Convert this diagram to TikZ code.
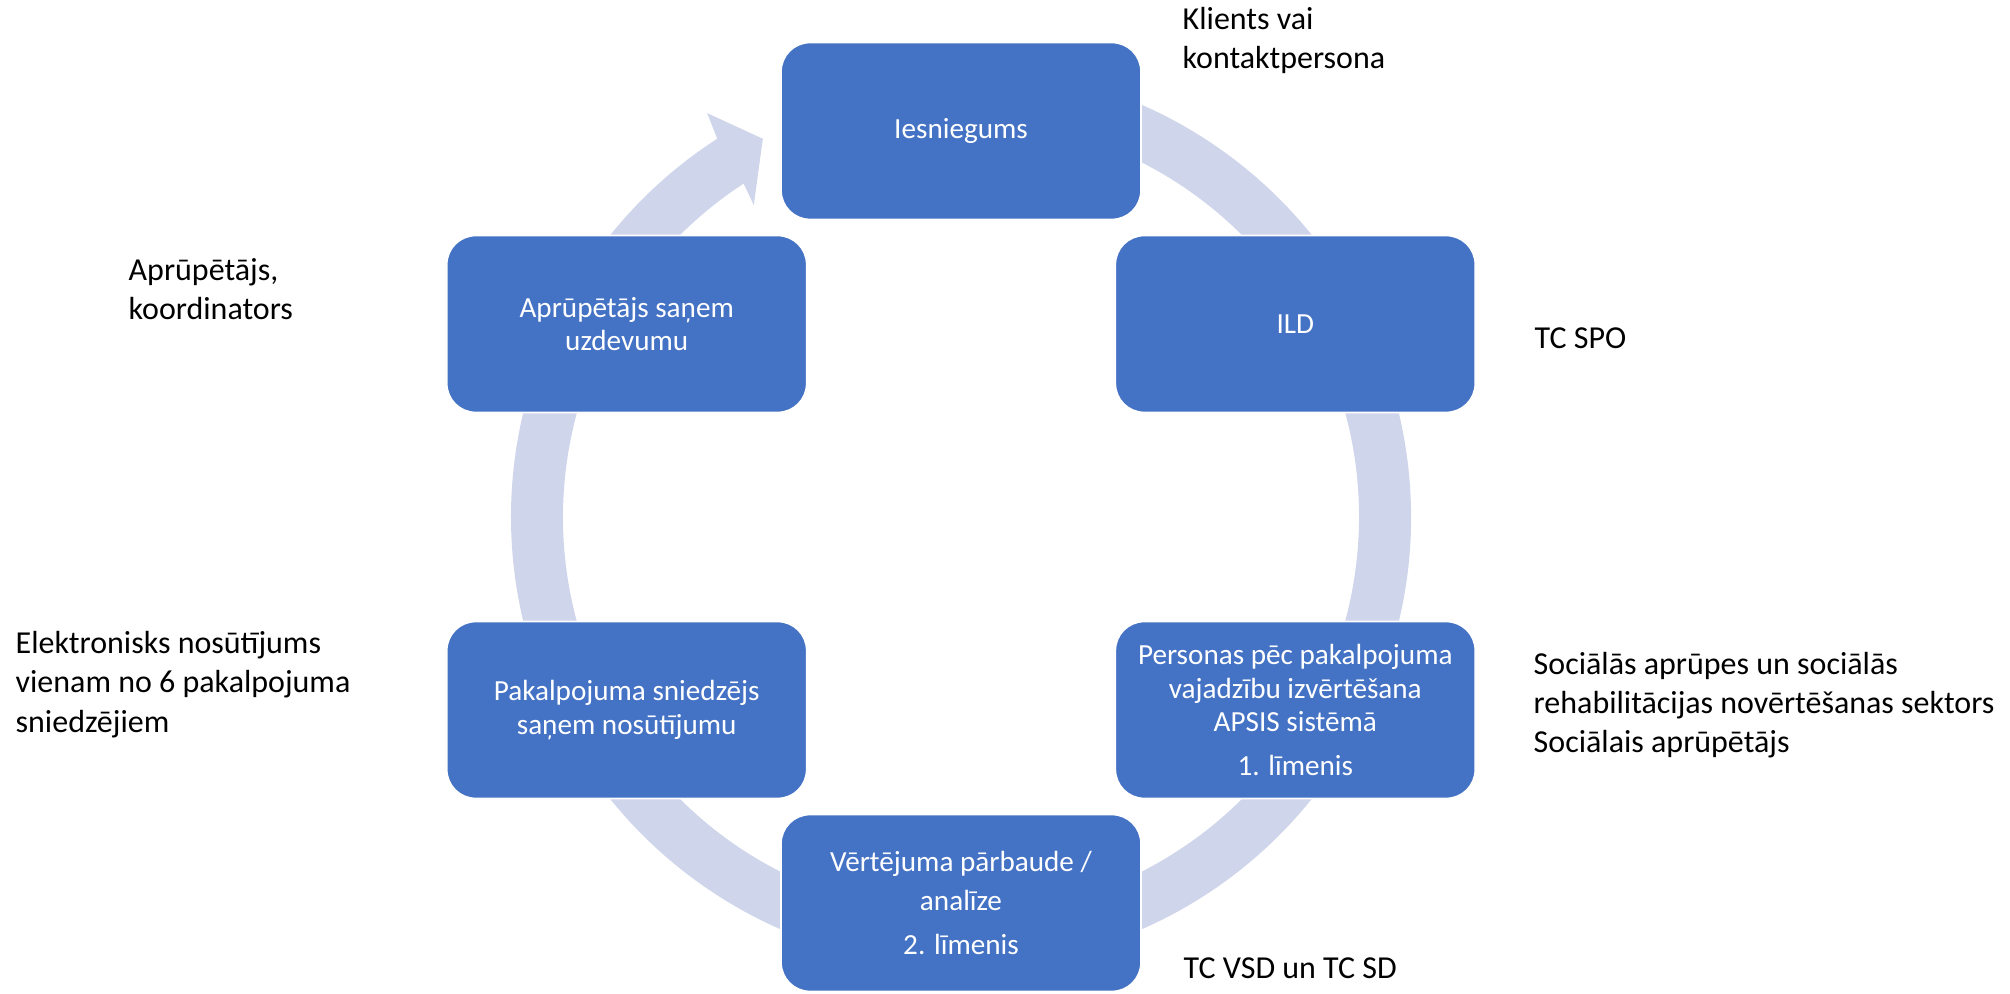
\documentclass[tikz,border=0pt]{standalone}
\usepackage{fontspec}
\setmainfont{Carlito}
\definecolor{boxblue}{HTML}{4472C4}
\definecolor{ringgray}{HTML}{CFD5EA}
\tikzset{
  stage/.style={rectangle, rounded corners=0.29cm, fill=boxblue, draw=white, line width=0.5pt,
    minimum width=3.6cm, minimum height=1.77cm, inner sep=0pt, align=center, text=white,
    font=\fontsize{8.3}{9.5}\selectfont},
  role/.style={anchor=base west, align=left, inner sep=0pt, font=\fontsize{9.1}{11.1}\selectfont}
}

\begin{document}
\begin{tikzpicture}
  \useasboundingbox (0,0) rectangle (20.1,-9.94);
  \begin{scope}[shift={(9.61,-5.17)}]
    % ring with the arrow head before Iesniegums
    \fill[ringgray] (100:4.5) arc[start angle=100, end angle=-237.2, radius=4.5]
      -- (122.15:4.77) -- (117.65:4.27) -- (123.6:3.745)
      -- (-236.9:3.98) arc[start angle=-236.9, end angle=100, radius=3.98] -- cycle;
    % stages
    \node[stage] (iesn) at (90:3.86) {Iesniegums};
    \node[stage] (ild) at (30:3.86) {ILD};
    \node[stage] (izv) at (-30:3.86) {Personas pēc pakalpojuma\\vajadzību izvērtēšana\\APSIS sistēmā\\[3pt]1. līmenis};
    \node[stage] (parb) at (-90:3.86) {Vērtējuma pārbaude /\\[1.5pt]analīze\\[3pt]2. līmenis};
    \node[stage] (snied) at (-150:3.86) {Pakalpojuma sniedzējs\\saņem nosūtījumu};
    \node[stage] (uzd) at (150:3.86) {Aprūpētājs saņem\\uzdevumu};
  \end{scope}
  % who does it (placed at the last baseline)
  \node[role] (klients) at (11.82,-0.69) {Klients vai\\kontaktpersona};
  \node[role] (spo) at (15.34,-3.49) {TC SPO};
  \node[role] (sektors) at (15.33,-7.53) {Sociālās aprūpes un sociālās\\rehabilitācijas novērtēšanas sektors\\Sociālais aprūpētājs};
  \node[role] (vsd) at (11.83,-9.78) {TC VSD un TC SD};
  \node[role] (nosut) at (0.15,-7.32) {Elektronisks nosūtījums\\vienam no 6 pakalpojuma\\sniedzējiem};
  \node[role] (koord) at (1.28,-3.20) {Aprūpētājs,\\koordinators};
\end{tikzpicture}
\end{document}
